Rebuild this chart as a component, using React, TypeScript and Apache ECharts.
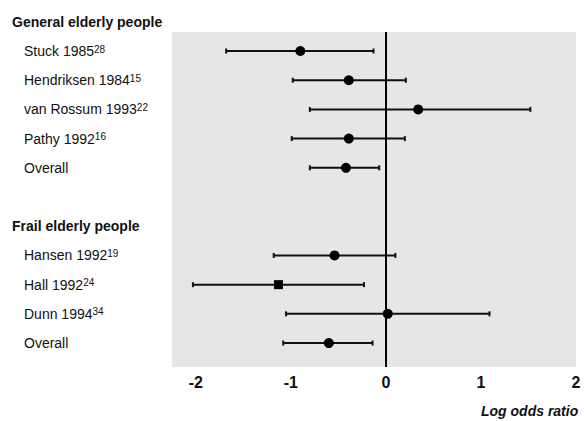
import React, { useEffect, useRef } from "react";
import * as echarts from "echarts";

// Rows on the y axis (0 = top). Row 6 is an empty spacer.
const headerRows = [0, 7];
const headerNames = ["General elderly people", "Frail elderly people"];

const studyRows = [1, 2, 3, 4, 5, 8, 9, 10, 11];
const studyNames = [
  "Stuck 1985",
  "Hendriksen 1984",
  "van Rossum 1993",
  "Pathy 1992",
  "Overall",
  "Hansen 1992",
  "Hall 1992",
  "Dunn 1994",
  "Overall",
];
const studyRefs = ["28", "15", "22", "16", "", "19", "24", "34", ""];

// Log odds ratio: point estimate and 95% CI
const estimates = [-0.9, -0.39, 0.34, -0.39, -0.42, -0.54, -1.13, 0.02, -0.6];
const lowerCI = [-1.68, -0.98, -0.8, -0.99, -0.8, -1.18, -2.03, -1.05, -1.08];
const upperCI = [-0.13, 0.21, 1.52, 0.2, -0.07, 0.1, -0.23, 1.09, -0.14];
const markerShapes = ["circle", "circle", "circle", "circle", "circle", "circle", "rect", "circle", "circle"];

const xTicks = [-2, -1, 0, 1, 2];

const FONT = "'Liberation Sans', Arial, sans-serif";

export default function App() {
  const ref = useRef<HTMLDivElement>(null);

  useEffect(() => {
    if (!ref.current) return;
    const chart = echarts.init(ref.current, null, { renderer: "svg" });

    const labelValues = [...headerRows, ...studyRows].sort((a, b) => a - b);

    const labelFor = (v: number) => {
      const h = headerRows.indexOf(v);
      if (h >= 0) return `{h|${headerNames[h]}}`;
      const i = studyRows.indexOf(v);
      if (i >= 0) {
        const r = studyRefs[i];
        return r ? `{n|${studyNames[i]}}{s|${r}}` : `{n|${studyNames[i]}}`;
      }
      return "";
    };

    const ciData = studyRows.map((r, i) => [r, lowerCI[i], upperCI[i]]);
    const pointData = studyRows.map((r, i) => ({
      value: [estimates[i], r],
      symbol: markerShapes[i],
      symbolSize: markerShapes[i] === "rect" ? 9 : 10,
    }));

    chart.setOption({
      animation: false,
      backgroundColor: "#ffffff",
      textStyle: { fontFamily: FONT },
      grid: { left: 172, right: 9, top: 7.2, bottom: 54 },
      xAxis: {
        type: "value",
        min: -2.25,
        max: 2,
        axisLine: { show: false },
        axisTick: { show: false },
        splitLine: { show: false },
        axisLabel: {
          customValues: xTicks,
          formatter: (v: number) => String(v),
          fontSize: 16,
          fontWeight: "bold",
          color: "#111",
          margin: 7,
          fontFamily: FONT,
        },
      },
      yAxis: {
        type: "value",
        inverse: true,
        min: -0.5,
        max: 11.82,
        axisLine: { show: false },
        axisTick: { show: false },
        splitLine: { show: false },
        axisLabel: {
          customValues: labelValues,
          align: "left",
          margin: 160,
          formatter: (v: number) => labelFor(v),
          rich: {
            h: { fontSize: 14, fontWeight: "bold", color: "#111", fontFamily: FONT },
            n: { fontSize: 14, color: "#111", padding: [0, 0, 0, 12], fontFamily: FONT },
            s: { fontSize: 10, color: "#111", verticalAlign: "top", lineHeight: 10, padding: [0, 0, 5, 0], fontFamily: FONT },
          },
        },
      },
      graphic: [
        {
          type: "text",
          left: 481,
          top: 404,
          style: {
            text: "Log odds ratio",
            font: `italic bold 14px ${FONT}`,
            fill: "#111",
          },
        },
      ],
      series: [
        {
          type: "custom",
          data: ciData,
          encode: { x: [1, 2], y: 0 },
          z: 3,
          markArea: {
            silent: true,
            itemStyle: { color: "#e6e6e6" },
            data: [[{ xAxis: -2.25, yAxis: 0.35 }, { xAxis: 2, yAxis: 11.82 }]],
          },
          markLine: {
            silent: true,
            symbol: ["none", "none"],
            label: { show: false },
            lineStyle: { color: "#000", width: 2, type: "solid" },
            data: [[{ coord: [0, 0.35] }, { coord: [0, 11.82] }]],
          },
          renderItem: (params: any, api: any) => {
            const row = api.value(0);
            const lo = api.value(1);
            const hi = api.value(2);
            const p1 = api.coord([lo, row]);
            const p2 = api.coord([hi, row]);
            const style = { stroke: "#111", lineWidth: 2 };
            return {
              type: "group",
              children: [
                { type: "line", shape: { x1: p1[0], y1: p1[1], x2: p2[0], y2: p2[1] }, style },
                { type: "line", shape: { x1: p1[0], y1: p1[1] - 2.5, x2: p1[0], y2: p1[1] + 2.5 }, style },
                { type: "line", shape: { x1: p2[0], y1: p2[1] - 2.5, x2: p2[0], y2: p2[1] + 2.5 }, style },
              ],
            };
          },
        },
        {
          type: "scatter",
          data: pointData,
          z: 4,
          itemStyle: { color: "#000", opacity: 1 },
        },
      ],
    });

    return () => chart.dispose();
  }, []);

  return (
    <div
      ref={ref}
      style={{ position: "fixed", left: 0, top: 0, width: 585, height: 421 }}
    />
  );
}
